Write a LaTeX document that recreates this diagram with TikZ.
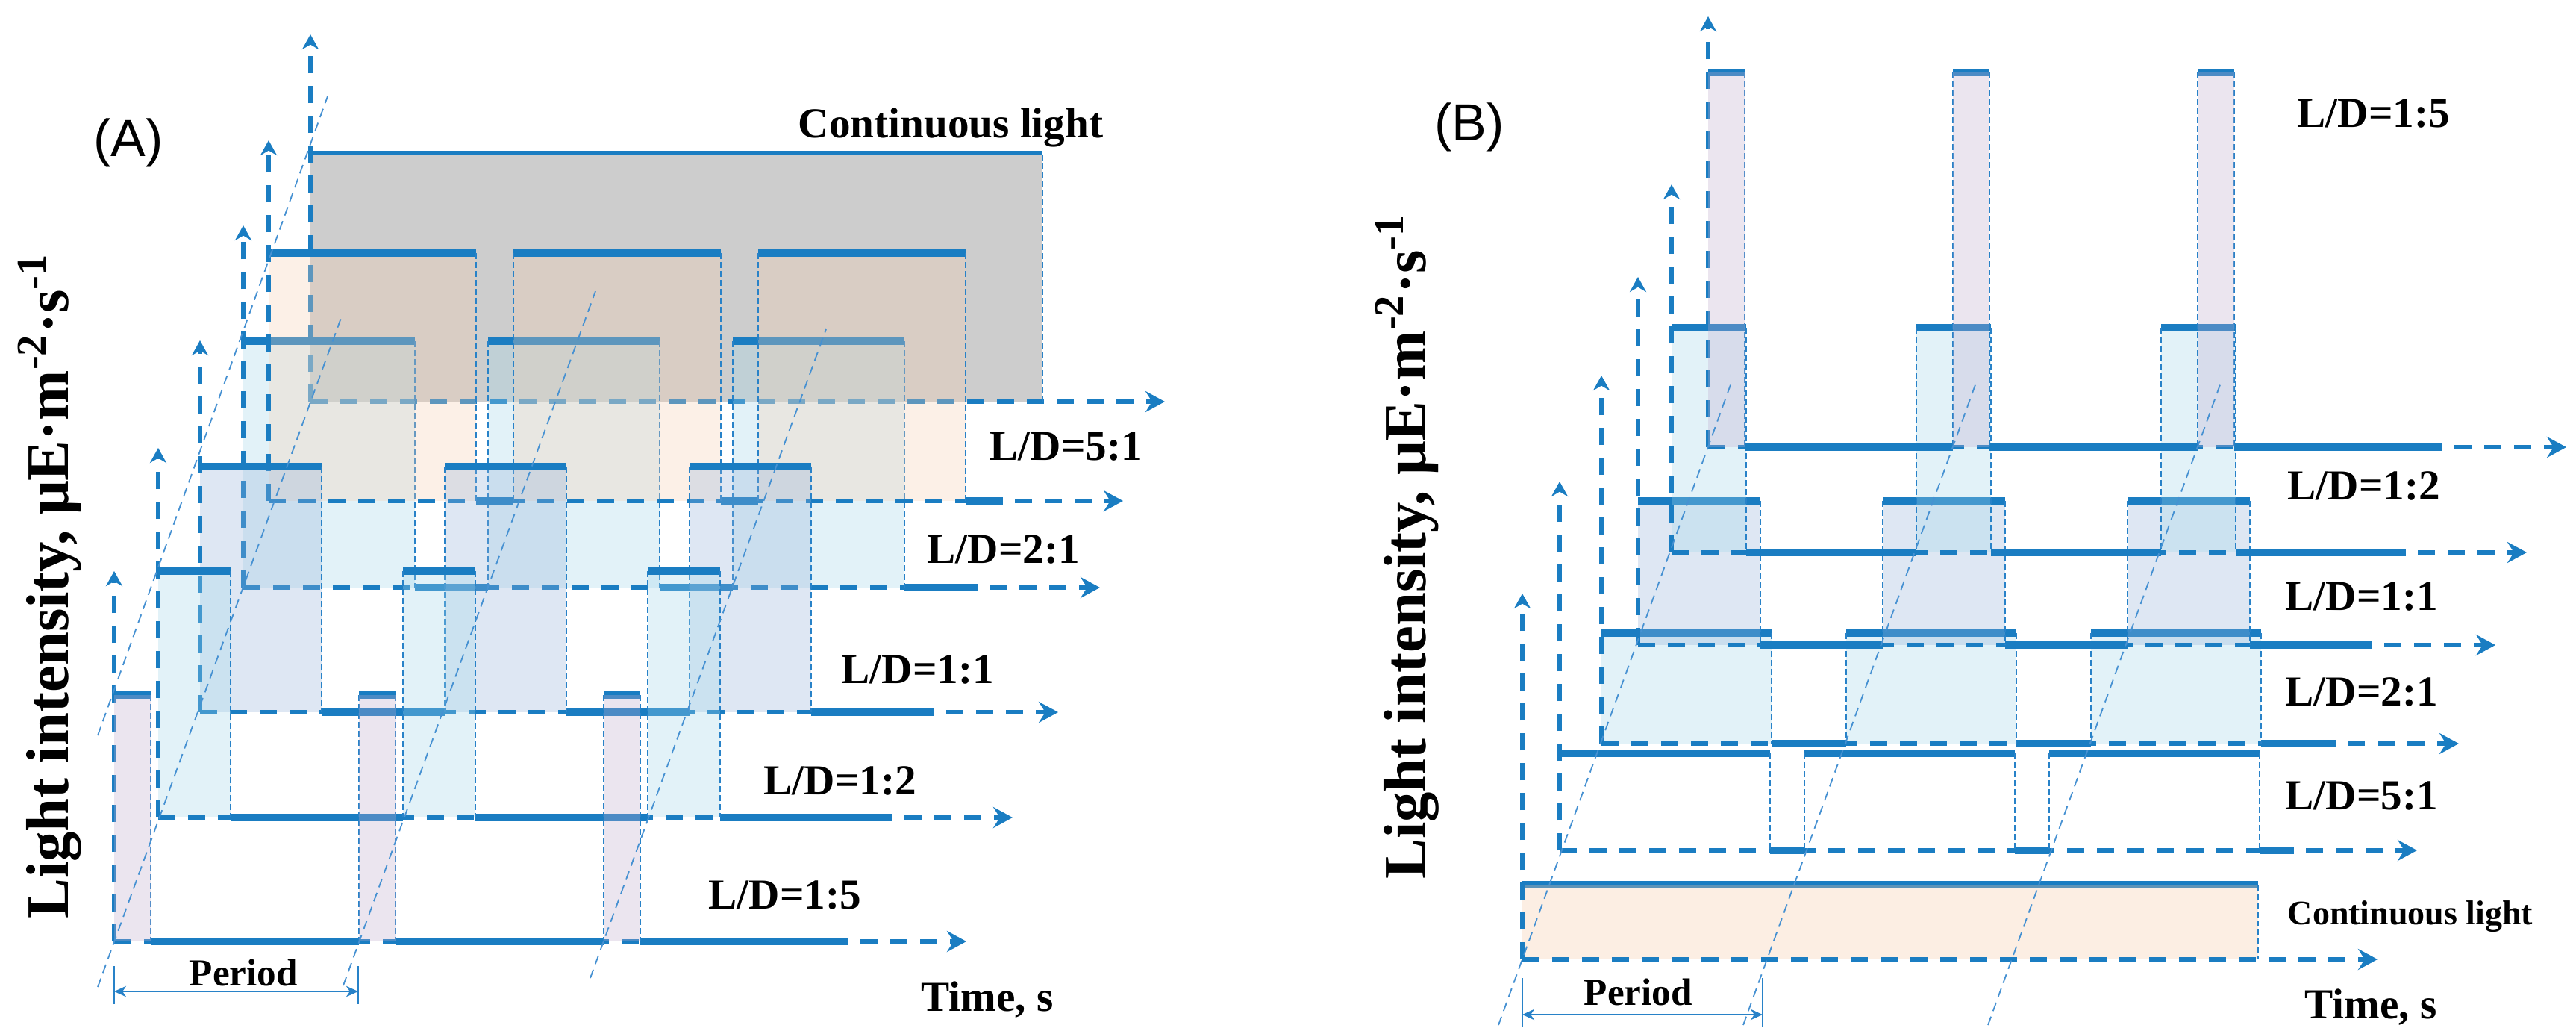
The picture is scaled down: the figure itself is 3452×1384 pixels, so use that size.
\documentclass[tikz,border=0pt]{standalone}
\usepackage{fontspec}
\setmainfont{Liberation Serif}
\newfontfamily\arialfont{Liberation Sans}
\usetikzlibrary{arrows.meta}
\definecolor{mainblue}{RGB}{26,125,194}
\definecolor{thinblue}{RGB}{40,130,200}
\definecolor{persp}{RGB}{70,145,210}
\definecolor{lav}{RGB}{192,172,205}
\definecolor{cyanf}{RGB}{162,215,235}
\definecolor{bluelav}{RGB}{148,178,218}
\definecolor{peach}{RGB}{248,208,178}
\definecolor{peachB}{RGB}{248,202,165}
\definecolor{grayf}{RGB}{205,205,205}
\tikzset{
 basedash/.style={mainblue, line width=1.3pt, dash pattern=on 5.75pt off 4.25pt, -{Stealth[length=6.5pt,width=7pt,inset=2.2pt]}},
 axisdash/.style={mainblue, line width=1.5pt, dash pattern=on 5.75pt off 4.25pt, -{Stealth[length=5pt,width=5.5pt,inset=1.6pt]}},
 thickseg/.style={mainblue, line width=2.6pt},
 thinedge/.style={thinblue, line width=0.5pt, dash pattern=on 2pt off 1pt},
 persline/.style={persp, line width=0.45pt, dash pattern=on 3pt off 2pt},
 pfill/.style={fill=#1, fill opacity=0.3},
 lab/.style={font=\fontsize{14.3}{16}\selectfont\bfseries, inner sep=0pt, anchor=base west},
 ylab/.style={font=\fontsize{20.2}{24}\selectfont\bfseries, rotate=90, inner sep=0pt},
 perarrow/.style={thinblue, line width=0.6pt, {Stealth[length=4pt,width=3.6pt,inset=1.2pt]}-{Stealth[length=4pt,width=3.6pt,inset=1.2pt]}},
 pertick/.style={thinblue, line width=0.6pt},
}
% ox oy top w arrowend ytip fillcolor fillmode(0 before,1 after,2 none)
\newcommand{\plslayer}[8]{%
 \ifnum#8=0\relax
   \foreach \k in {0,1,2} \fill[pfill=#7] ({#1+\k*328},#3) rectangle ({#1+\k*328+#4},#2);
 \fi
 \draw[axisdash] (#1,#2) -- (#1,#6);
 \draw[basedash] (#1,#2) -- (#5,#2);
 \foreach \k in {0,1,2} {
   \draw[thickseg] ({#1+\k*328+#4},#2) -- ({#1+(\k+1)*328},#2);
   \draw[thickseg] ({#1+\k*328},#3) -- ({#1+\k*328+#4},#3);
   \draw[thinedge] ({#1+\k*328+#4},#3) -- ({#1+\k*328+#4},#2);
 }
 \foreach \k in {1,2} \draw[thinedge] ({#1+\k*328},#3) -- ({#1+\k*328},#2);
 \ifnum#8=1\relax
   \foreach \k in {0,1,2} \fill[pfill=#7] ({#1+\k*328},#3) rectangle ({#1+\k*328+#4},#2);
 \fi
}
\begin{document}
\begin{tikzpicture}[x=0.25pt,y=-0.25pt]
\fill[white] (0,0) rectangle (3452,1384);
\useasboundingbox (0,0) rectangle (3452,1384);
% ---------------- Panel A ----------------
% continuous light
\draw[thickseg] (416,207) -- (1397,207);
\fill[grayf] (416,207) rectangle (1397,538);
\draw[axisdash] (416,538) -- (416,46);
\draw[basedash] (416,538) -- (1561,538);
\draw[thinedge] (1397,207) -- (1397,538);
\plslayer{326}{787}{457}{230}{1474}{302}{cyanf}{0}
\plslayer{360}{671}{339}{278}{1505}{188}{peach}{0}
\plslayer{268}{954}{625}{163}{1418}{456}{bluelav}{0}
\plslayer{212}{1095}{765}{97}{1357}{600}{cyanf}{0}
\plslayer{153}{1261}{931}{49}{1295}{765}{lav}{1}
\draw[persline] (131,985) -- (439,129);
\draw[persline] (131,1322) -- (457,426);
\draw[persline] (460,1320) -- (798,390);
\draw[persline] (791,1310) -- (1107,441);
\draw[pertick] (153,1294) -- (153,1345);
\draw[pertick] (480,1294) -- (480,1345);
\draw[perarrow] (153,1328) -- (480,1328);
\node[font=\arialfont\fontsize{17.5}{20}\selectfont] (tA) at (172,191) {(A)};
\node[lab] (clA) at (1069,184) {Continuous light};
\node[lab] (a51) at (1326,616) {L/D=5:1};
\node[lab] (a21) at (1242,754) {L/D=2:1};
\node[lab] (a11) at (1127,915) {L/D=1:1};
\node[lab] (a12) at (1023,1064) {L/D=1:2};
\node[lab] (a15) at (949,1217) {L/D=1:5};
\node[lab] (timeA) at (1234,1354) {Time, s};
\node[lab, font=\fontsize{12.8}{14}\selectfont\bfseries] (perA) at (253,1320) {Period};
\node[ylab] (ylA) at (67,785) {Light intensity, μE·m\textsuperscript{-2}·s\textsuperscript{-1}};
% ---------------- Panel B ----------------
\draw[thickseg] (2040,1185) -- (3026,1185);
\fill[pfill=peachB] (2040,1185) rectangle (3026,1285);
\draw[axisdash] (2040,1285) -- (2040,795);
\draw[basedash] (2040,1285) -- (3186,1285);
\draw[thinedge] (3026,1185) -- (3026,1285);
\plslayer{2090}{1139}{1009}{282}{3239}{645}{white}{2}
\plslayer{2146}{996}{848}{228}{3295}{503}{cyanf}{0}
\plslayer{2195}{864}{671}{164}{3344}{371}{bluelav}{0}
\plslayer{2240}{740}{439}{100}{3386}{247}{cyanf}{0}
\plslayer{2289}{599}{97}{49}{3439}{22}{lav}{1}
\draw[persline] (2008,1373) -- (2321,510);
\draw[persline] (2336,1373) -- (2649,510);
\draw[persline] (2664,1373) -- (2977,510);
\draw[pertick] (2040,1310) -- (2040,1376);
\draw[pertick] (2362,1310) -- (2362,1376);
\draw[perarrow] (2040,1359) -- (2362,1359);
\node[font=\arialfont\fontsize{17.5}{20}\selectfont] (tB) at (1969,170) {(B)};
\node[lab] (b15) at (3078,170) {L/D=1:5};
\node[lab] (b12) at (3065,669) {L/D=1:2};
\node[lab] (b11) at (3062,817) {L/D=1:1};
\node[lab] (b21) at (3062,945) {L/D=2:1};
\node[lab] (b51) at (3062,1084) {L/D=5:1};
\node[lab, font=\fontsize{11.5}{13}\selectfont\bfseries] (clB) at (3065,1238) {Continuous light};
\node[lab] (timeB) at (3088,1364) {Time, s};
\node[lab, font=\fontsize{12.8}{14}\selectfont\bfseries] (perB) at (2122,1346) {Period};
\node[ylab] (ylB) at (1886,732) {Light intensity, μE·m\textsuperscript{-2}·s\textsuperscript{-1}};
\end{tikzpicture}
\end{document}
